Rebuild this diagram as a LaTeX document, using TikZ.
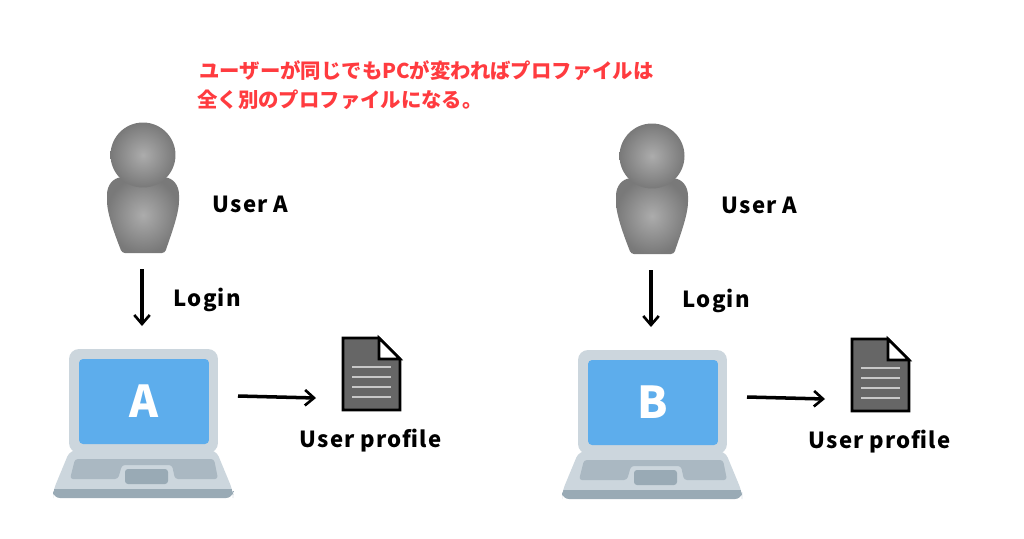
\documentclass[tikz,border=0pt]{standalone}
\usepackage{fontspec}
\setmainfont{Noto Sans CJK JP}
\newfontfamily\capfont[LetterSpace=5]{Noto Sans CJK JP}
\usetikzlibrary{arrows.meta}
\definecolor{lidgray}{HTML}{CCD6DD}
\definecolor{screenblue}{HTML}{5DADEC}
\definecolor{padgray}{HTML}{AAB8C2}
\definecolor{stripgray}{HTML}{99AAB5}
\definecolor{notered}{HTML}{FF3B3F}
\tikzset{
	flow/.style={-{Straight Barb[length=1.8mm,width=3.1mm,line width=1.5pt]}, line width=2pt, black},
	caption/.style={font=\capfont\bfseries\fontsize{12.6}{15}\selectfont, inner sep=0pt, anchor=west},
	note/.style={font=\bfseries\fontsize{11.6}{14}\selectfont, text=notered, inner sep=0pt, anchor=west},
	lid/.style={fill=lidgray, rounded corners=.2cm, minimum width=2.98cm, minimum height=2.08cm, inner sep=0pt},
	screen/.style={fill=screenblue, rounded corners=.08cm, minimum width=2.6cm, minimum height=1.7cm, inner sep=0pt, text=white, font=\bfseries\fontsize{25}{28}\selectfont},
	head/.style={circle, minimum size=1.3cm, inner sep=0pt, inner color=gray!65, outer color=gray!95!black},
	bodyshade/.style={inner color=gray!65, outer color=gray!95!black},
	page/.style={fill=black!60, draw=black, line width=1.5pt, line join=miter}
}
% one user with laptop and profile, #1 = name, #2 = letter on the screen
\newcommand{\station}[2]
{
	\shade[bodyshade, rounded corners=.06cm] (122,253) .. controls (117,240) and (107,215) .. (107,198) .. controls (107,185) and (113,178) .. (124,177) -- (162,177) .. controls (173,178) and (179,185) .. (179,198) .. controls (179,215) and (169,240) .. (165,253) -- cycle;
	\node[head] at (143,155) (head#1){};
	\node[caption] at (212.5,204) (user#1){User A};
	\coordinate (top#1) at (142,269);
	\coordinate (low#1) at (142,326);
	\draw[flow] (top#1) -- (low#1);
	\node[caption] at (173.5,300) (login#1){Login};

	\begin{scope}
		\clip[rounded corners=.14cm] (70,450) -- (53,491) -- (53,498) -- (233,498) -- (233,491) -- (216,450) -- cycle;
		\fill[lidgray] (50,445) rectangle (236,489);
		\fill[stripgray] (50,489) rectangle (236,500);
	\end{scope}
	\fill[padgray, rounded corners=.06cm] (75,459) -- (70,479) -- (118,479) -- (122,465) -- (172,465) -- (175,479) -- (218,479) -- (214,459) -- cycle;
	\fill[stripgray, rounded corners=.06cm] (125,469) rectangle (168,484);
	\node[lid] at (143.5,401) (lid#1){};
	\node[screen] at (144,401.5) (screen#1){#2};

	\coordinate (out#1) at (238,396);
	\coordinate (in#1) at (316,398);
	\draw[flow] (out#1) -- (in#1);
	\draw[page] (343,338) -- (379,338) -- (400,359) -- (400,410) -- (343,410) -- cycle;
	\draw[page, fill=white] (379,338) -- (400,359) -- (379,359) -- cycle;
	\foreach \y in {367,377,387,397}
		\draw[black!22, line width=1.5pt] (352,\y) -- (391,\y);
	\node[caption] at (299.5,441) (profile#1){User profile};
}

\begin{document}
\begin{tikzpicture}[x=.02cm, y=-.02cm]
	\useasboundingbox (0,0) rectangle (1024,538);

	\node[note] at (199,71) (noteA){ユーザーが同じでもPCが変わればプロファイルは};
	\node[note] at (197,100) (noteB){全く別のプロファイルになる。};

	\station{A}{A}
	\begin{scope}[shift={(509,1)}]
		\station{B}{B}
	\end{scope}
\end{tikzpicture}
\end{document}
